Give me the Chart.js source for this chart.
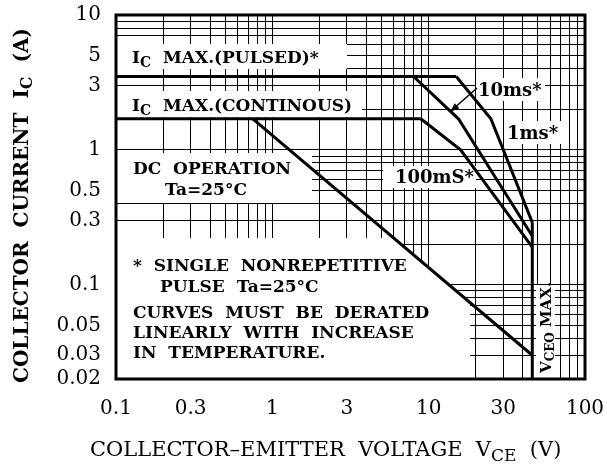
<!DOCTYPE html>
<html lang="en">
<head>
<meta charset="UTF-8">
<title>Safe Operating Area</title>
<style>
  html, body { margin: 0; padding: 0; background: #fff; }
  #soaCanvas { display: block; }
</style>
</head>
<body>
<canvas id="soaCanvas" width="607" height="474"></canvas>

<script src="https://cdn.jsdelivr.net/npm/chart.js"></script>
<script>
// axis tick labels
const xTickLabels = [0.1, 0.3, 1, 3, 10, 30, 100];
const yTickLabels = [10, 5, 3, 1, 0.5, 0.3, 0.1, 0.05, 0.03, 0.02];

// curves (VCE in V, IC in A)
const pulsedV = [0.1, 15];
const pulsedI = [3.5, 3.5];
const contV = [0.1, 8.9];
const contI = [1.7, 1.7];
const ms1V = [15, 25, 46];
const ms1I = [3.5, 1.7, 0.29];
const ms10V = [8, 15.5, 46];
const ms10I = [3.5, 1.7, 0.23];
const ms100V = [8.9, 16, 46];
const ms100I = [1.7, 1.0, 0.19];
const dcV = [0.75, 46];
const dcI = [1.7, 0.03];
const vceoV = [46, 46];
const vceoI = [0.29, 0.02];

const FONT = '"DejaVu Serif"';

// every 1..9 multiple inside the range, for the dense log grid
function gridValues(min, max) {
    const out = [];
    for (let e = Math.floor(Math.log10(min)); e <= Math.ceil(Math.log10(max)); e++) {
        for (let m = 1; m <= 9; m++) {
            const v = parseFloat((m * Math.pow(10, e)).toPrecision(4));
            if (v >= min - 1e-9 && v <= max + 1e-9) out.push(v);
        }
    }
    return out;
}

function pts(xs, ys) {
    return xs.map((x, i) => ({ x: x, y: ys[i] }));
}

// text with subscripts, parts = [{t, sub}]
function drawRich(ctx, parts, x, y, size, align, weight) {
    const w = weight ? weight + ' ' : '';
    const fontOf = p => w + (p.sub ? Math.round(size * 0.8) : size) + 'px ' + FONT;
    let total = 0;
    parts.forEach(p => { ctx.font = fontOf(p); total += ctx.measureText(p.t).width; });
    let cx = align === 'center' ? x - total / 2 : (align === 'right' ? x - total : x);
    ctx.textAlign = 'left';
    ctx.textBaseline = 'alphabetic';
    parts.forEach(p => {
        ctx.font = fontOf(p);
        ctx.fillText(p.t, cx, y + (p.sub ? size * 0.22 : 0));
        cx += ctx.measureText(p.t).width;
    });
}

function whiteRect(ctx, x1, y1, x2, y2) {
    ctx.fillStyle = '#fff';
    ctx.fillRect(x1, y1, x2 - x1, y2 - y1);
}

function noPad(s) {
    s.paddingTop = 0;
    s.paddingBottom = 0;
    s.paddingLeft = 0;
    s.paddingRight = 0;
}

const notes = {
    id: 'notes',
    beforeDatasetsDraw(chart) {
        const ctx = chart.ctx;
        const xs = chart.scales.x, ys = chart.scales.y;
        const a = chart.chartArea;
        ctx.save();

        // white label backgrounds
        whiteRect(ctx, a.left + 1, 44, 347, 69);
        whiteRect(ctx, a.left + 1, 91, 362, 117);
        whiteRect(ctx, a.left + 1, 153, 312, 203);
        whiteRect(ctx, 383, 166, 476, 188);
        whiteRect(ctx, 476, 78, 545, 101);
        whiteRect(ctx, 505, 121, 566, 144);
        whiteRect(ctx, 536, 285, 555, a.bottom - 1);

        // big note box, cut along the DC line
        const x0 = xs.getPixelForValue(dcV[0]), y0 = ys.getPixelForValue(dcI[0]);
        const x1 = xs.getPixelForValue(dcV[1]), y1 = ys.getPixelForValue(dcI[1]);
        const top = 238, right = 470;
        const xTop = x0 + (top - y0) / (y1 - y0) * (x1 - x0);
        const yRight = y0 + (right - x0) / (x1 - x0) * (y1 - y0);
        ctx.fillStyle = '#fff';
        ctx.beginPath();
        ctx.moveTo(a.left + 1, top);
        ctx.lineTo(xTop, top);
        ctx.lineTo(right, yRight);
        ctx.lineTo(right, a.bottom - 1);
        ctx.lineTo(a.left + 1, a.bottom - 1);
        ctx.closePath();
        ctx.fill();

        ctx.fillStyle = '#000';
        drawRich(ctx, [{ t: 'I' }, { t: 'C', sub: true }, { t: '  MAX.(PULSED)*' }], 132, 63, 17, 'left', 'bold');
        drawRich(ctx, [{ t: 'I' }, { t: 'C', sub: true }, { t: '  MAX.(CONTINOUS)' }], 132, 111, 17, 'left', 'bold');
        drawRich(ctx, [{ t: 'DC  OPERATION' }], 133, 174, 17, 'left', 'bold');
        drawRich(ctx, [{ t: 'Ta=25°C' }], 165, 195, 17, 'left', 'bold');
        drawRich(ctx, [{ t: '100mS*' }], 474, 183, 18, 'right', 'bold');
        drawRich(ctx, [{ t: '10ms*' }], 478, 96, 18, 'left', 'bold');
        drawRich(ctx, [{ t: '1ms*' }], 507, 139, 18, 'left', 'bold');

        drawRich(ctx, [{ t: '*  SINGLE  NONREPETITIVE' }], 133, 271, 17, 'left', 'bold');
        drawRich(ctx, [{ t: 'PULSE  Ta=25°C' }], 160, 292, 17, 'left', 'bold');
        drawRich(ctx, [{ t: 'CURVES  MUST  BE  DERATED' }], 133, 318, 17, 'left', 'bold');
        drawRich(ctx, [{ t: 'LINEARLY  WITH  INCREASE' }], 133, 338, 17, 'left', 'bold');
        drawRich(ctx, [{ t: 'IN  TEMPERATURE.' }], 133, 358, 17, 'left', 'bold');

        // VCEO MAX. written upwards beside the limit line
        ctx.translate(551, 373);
        ctx.rotate(-Math.PI / 2);
        drawRich(ctx, [{ t: 'V' }, { t: 'CEO', sub: true }, { t: ' MAX.' }], 0, 0, 15, 'left', 'bold');
        ctx.restore();
    },
    afterDatasetsDraw(chart) {
        const ctx = chart.ctx;
        const a = chart.chartArea;
        ctx.save();
        // arrow from the 10ms label to its curve
        ctx.strokeStyle = '#000';
        ctx.fillStyle = '#000';
        ctx.lineWidth = 1.5;
        ctx.beginPath();
        ctx.moveTo(477, 88);
        ctx.lineTo(452, 110);
        ctx.stroke();
        const ang = Math.atan2(110 - 88, 452 - 477);
        ctx.beginPath();
        ctx.moveTo(450, 112);
        ctx.lineTo(450 - 10 * Math.cos(ang - 0.35), 112 - 10 * Math.sin(ang - 0.35));
        ctx.lineTo(450 - 10 * Math.cos(ang + 0.35), 112 - 10 * Math.sin(ang + 0.35));
        ctx.closePath();
        ctx.fill();

        // heavy frame
        ctx.lineWidth = 3;
        ctx.strokeRect(a.left, a.top, a.right - a.left, a.bottom - a.top);

        // axis titles
        drawRich(ctx, [{ t: 'COLLECTOR–EMITTER  VOLTAGE  V' }, { t: 'CE', sub: true }, { t: '  (V)' }], 90, 456, 21, 'left');
        ctx.translate(28, 383);
        ctx.rotate(-Math.PI / 2);
        drawRich(ctx, [{ t: 'COLLECTOR  CURRENT  I' }, { t: 'C', sub: true }, { t: '  (A)' }], 0, 0, 20, 'left', 'bold');
        ctx.restore();
    }
};

const series = [
    { label: 'IC max pulsed', xs: pulsedV, ys: pulsedI },
    { label: 'IC max continuous', xs: contV, ys: contI },
    { label: '1ms', xs: ms1V, ys: ms1I },
    { label: '10ms', xs: ms10V, ys: ms10I },
    { label: '100ms', xs: ms100V, ys: ms100I },
    { label: 'DC', xs: dcV, ys: dcI },
    { label: 'VCEO max', xs: vceoV, ys: vceoI }
];

const tickFont = { family: FONT, size: 20 };

new Chart(document.getElementById('soaCanvas'), {
    type: 'scatter',
    data: {
        datasets: series.map(s => ({
            label: s.label,
            data: pts(s.xs, s.ys),
            showLine: true,
            borderColor: '#000',
            borderWidth: 3,
            pointRadius: 0,
            fill: false,
            tension: 0
        }))
    },
    options: {
        responsive: false,
        animation: false,
        layout: { padding: { left: 0, top: 15, right: 22, bottom: 0 } },
        plugins: { legend: { display: false }, tooltip: { enabled: false } },
        scales: {
            x: {
                type: 'logarithmic',
                min: 0.1,
                max: 100,
                afterBuildTicks: s => { s.ticks = gridValues(0.1, 100).map(v => ({ value: v })); },
                afterFit: s => { s.height = 95; noPad(s); },
                ticks: {
                    autoSkip: false,
                    maxRotation: 0,
                    padding: 18,
                    color: '#000',
                    font: tickFont,
                    callback: v => xTickLabels.includes(v) ? String(v) : ''
                },
                grid: { color: '#000', lineWidth: 1, drawTicks: false },
                border: { display: false }
            },
            y: {
                type: 'logarithmic',
                min: 0.02,
                max: 10,
                afterBuildTicks: s => { s.ticks = gridValues(0.02, 10).map(v => ({ value: v })); },
                afterFit: s => { s.width = 116; noPad(s); },
                ticks: {
                    autoSkip: false,
                    padding: 15,
                    color: '#000',
                    font: tickFont,
                    callback: v => yTickLabels.includes(v) ? String(v) : ''
                },
                grid: { color: '#000', lineWidth: 1, drawTicks: false },
                border: { display: false }
            }
        }
    },
    plugins: [notes]
});
</script>
</body>
</html>
